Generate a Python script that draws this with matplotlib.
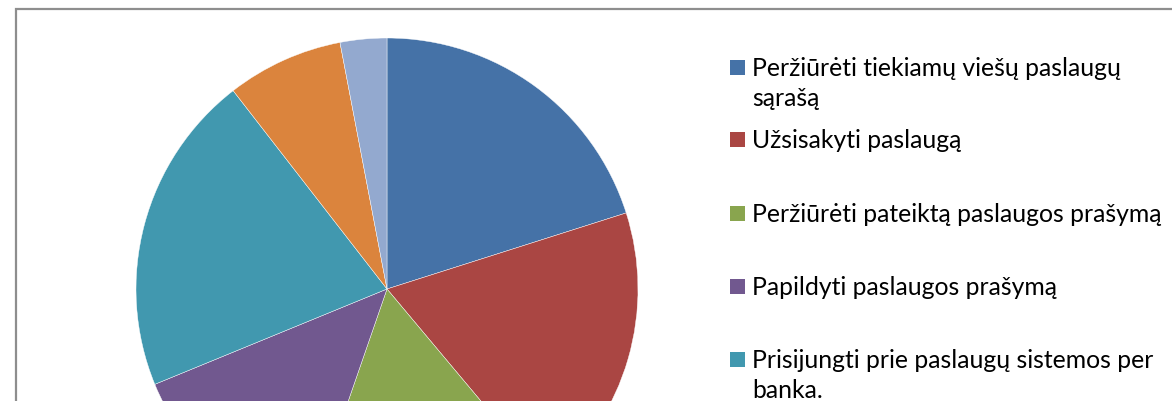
import matplotlib
matplotlib.use("Agg")
import matplotlib.pyplot as plt
from matplotlib.patches import Rectangle

# ---- data ----
labels = [
    "Peržiūrėti tiekiamų viešų paslaugų\nsąrašą",
    "Užsisakyti paslaugą",
    "Peržiūrėti pateiktą paslaugos prašymą",
    "Papildyti paslaugos prašymą",
    "Prisijungti prie paslaugų sistemos per\nbanka.",
    "Peržiūrėti paslaugos būseną",
    "Kita",
]
values = [20.1, 18.8, 16.4, 13.5, 20.7, 7.5, 3.0]
colors = ["#4572A7", "#AA4643", "#89A54E", "#71588F", "#4198AF", "#DB843D", "#93A9CF"]

W, H, DPI = 1172, 402, 100
fig = plt.figure(figsize=(W / DPI, H / DPI), dpi=DPI)
fig.patch.set_facecolor("white")

def fx(px):
    return px / W
def fy(py):
    return 1 - py / H

# chart border (extends beyond canvas)
fig.patches.append(Rectangle((fx(16), fy(460)), fx(1300), fy(10) - fy(460),
                             transform=fig.transFigure, fill=False,
                             edgecolor="#8e8e8e", linewidth=1.6, zorder=0))

# pie axes: center (387, 290) px, radius 251 px
cx, cy, R = 387, 290, 251
ax = fig.add_axes([fx(cx - R), fy(cy + R), 2 * R / W, 2 * R / H])
ax.pie(values, colors=colors, startangle=90, counterclock=False, radius=1.0,
       wedgeprops=dict(edgecolor="white", linewidth=0.3))
ax.set_xlim(-1, 1)
ax.set_ylim(-1, 1)
ax.set_aspect("auto")
ax.axis("off")

# legend (manual layout, Excel style)
baselines = [76, 148, 222, 295, 368, 441, 514]
line_gap = 30
for lab, col, bl in zip(labels, colors, baselines):
    fig.patches.append(Rectangle((fx(730), fy(bl)), fx(15), fy(bl - 15) - fy(bl),
                                 transform=fig.transFigure, facecolor=col,
                                 edgecolor="none"))
    for i, line in enumerate(lab.split("\n")):
        fig.text(fx(752), fy(bl + i * line_gap), line, ha="left", va="baseline",
                 fontsize=17.8, family="Lato", color="#000000")

fig.savefig("out.png", dpi=DPI, facecolor="white")
